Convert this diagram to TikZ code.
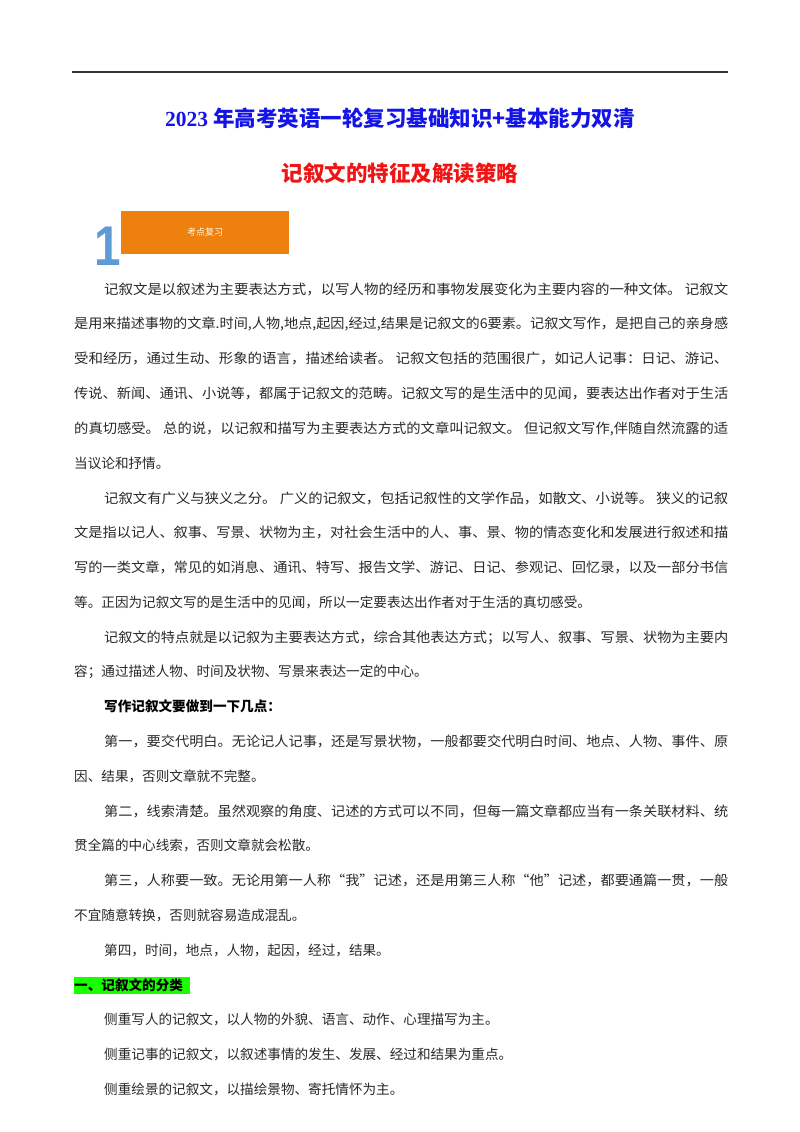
\documentclass[tikz,border=0pt]{standalone}
\usepackage{fontspec}
\usepackage{graphicx}
\setmainfont{Noto Sans CJK SC}
\newfontfamily\lser{Liberation Serif}
\newfontfamily\lsans{Liberation Sans}
\definecolor{tblue}{RGB}{20,20,230}
\definecolor{tred}{RGB}{240,20,20}
\definecolor{tor}{RGB}{238,128,16}
\definecolor{nblue}{RGB}{95,155,210}
\definecolor{tx}{RGB}{40,40,40}
\tikzset{body/.style={anchor=base west,inner sep=0pt,font=\fontsize{13.6}{14}\selectfont,text=tx}}
\newcommand{\fl}[4]{\node[body] (#1) at (#2,#3) {\resizebox{\dimexpr 728pt-#2pt\relax}{\height}{#4}};}
\newcommand{\pl}[4]{\node[body] (#1) at (#2,#3) {#4};}
\begin{document}
\begin{tikzpicture}[x=1pt,y=-1pt]
\useasboundingbox (0,0) rectangle (800,1132);
\draw[line width=1.5pt,black!80] (72,72) -- (728,72);
\node[font=\fontsize{21.5}{22}\selectfont\bfseries,text=tblue] (t1) at (400,118) {{\lser\bfseries 2023 }年高考英语一轮复习基础知识+基本能力双清};
\node[font=\fontsize{21.5}{22}\selectfont\bfseries,text=tred] (t2) at (400,173) {记叙文的特征及解读策略};
\node[fill=tor,minimum width=168pt,minimum height=43pt,inner sep=0pt,font=\fontsize{9}{10}\selectfont,text=white!90!yellow] (box) at (205,232.5) {考点复习};
\node[font=\fontsize{56}{56}\selectfont\lsans\bfseries,text=nblue,inner sep=0pt,xscale=0.85] (one) at (108,246) {1};
\fl{a1}{104}{294}{记叙文是以叙述为主要表达方式，以写人物的经历和事物发展变化为主要内容的一种文体。 记叙文}
\fl{a2}{74}{328}{是用来描述事物的文章.时间,人物,地点,起因,经过,结果是记叙文的6要素。记叙文写作，是把自己的亲身感}
\fl{a3}{74}{363}{受和经历，通过生动、形象的语言，描述给读者。 记叙文包括的范围很广，如记人记事：日记、游记、}
\fl{a4}{74}{398}{传说、新闻、通讯、小说等，都属于记叙文的范畴。记叙文写的是生活中的见闻，要表达出作者对于生活}
\fl{a5}{74}{433}{的真切感受。 总的说，以记叙和描写为主要表达方式的文章叫记叙文。 但记叙文写作,伴随自然流露的适}
\pl{a6}{74}{468}{当议论和抒情。}
\fl{b1}{104}{503}{记叙文有广义与狭义之分。 广义的记叙文，包括记叙性的文学作品，如散文、小说等。 狭义的记叙}
\fl{b2}{74}{537}{文是指以记人、叙事、写景、状物为主，对社会生活中的人、事、景、物的情态变化和发展进行叙述和描}
\fl{b3}{74}{572}{写的一类文章，常见的如消息、通讯、特写、报告文学、游记、日记、参观记、回忆录，以及一部分书信}
\pl{b4}{74}{607}{等。正因为记叙文写的是生活中的见闻，所以一定要表达出作者对于生活的真切感受。}
\fl{c1}{104}{642}{记叙文的特点就是以记叙为主要表达方式，综合其他表达方式；以写人、叙事、写景、状物为主要内}
\pl{c2}{74}{676}{容；通过描述人物、时间及状物、写景来表达一定的中心。}
\node[body,font=\fontsize{13.6}{14}\selectfont\bfseries,text=black] (d0) at (104,711) {写作记叙文要做到一下几点：};
\fl{d1}{104}{746}{第一，要交代明白。无论记人记事，还是写景状物，一般都要交代明白时间、地点、人物、事件、原}
\pl{d2}{74}{781}{因、结果，否则文章就不完整。}
\fl{e1}{104}{816}{第二，线索清楚。虽然观察的角度、记述的方式可以不同，但每一篇文章都应当有一条关联材料、统}
\pl{e2}{74}{850}{贯全篇的中心线索，否则文章就会松散。}
\fl{f1}{104}{885}{第三，人称要一致。无论用第一人称“我”记述，还是用第三人称“他”记述，都要通篇一贯，一般}
\pl{f2}{74}{920}{不宜随意转换，否则就容易造成混乱。}
\pl{g1}{104}{955}{第四，时间，地点，人物，起因，经过，结果。}
\fill[green!90!yellow] (74,977) rectangle (190,994);
\node[body,font=\fontsize{13.6}{14}\selectfont\bfseries,text=black] (h0) at (74,990) {一、记叙文的分类};
\pl{h1}{104}{1024}{侧重写人的记叙文，以人物的外貌、语言、动作、心理描写为主。}
\pl{h2}{104}{1059}{侧重记事的记叙文，以叙述事情的发生、发展、经过和结果为重点。}
\pl{h3}{104}{1094}{侧重绘景的记叙文，以描绘景物、寄托情怀为主。}
\end{tikzpicture}
\end{document}
